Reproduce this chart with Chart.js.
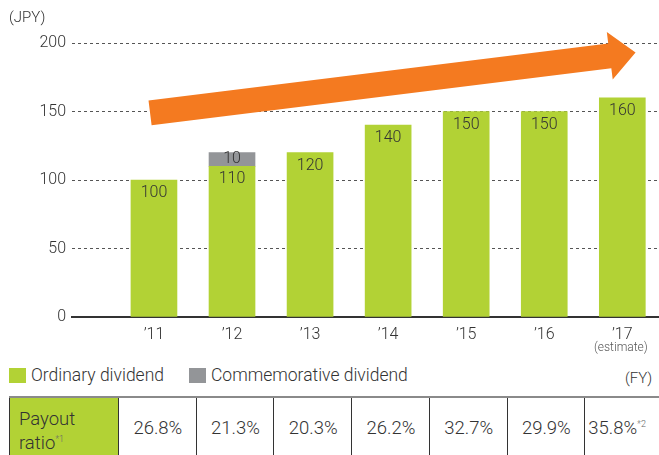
<!DOCTYPE html>
<html>
<head>
<meta charset="utf-8">
<script src="https://cdn.jsdelivr.net/npm/chart.js@4"></script>
<style>
  body { margin: 0; width: 659px; height: 455px; overflow: hidden; background: #fff;
         font-family: Roboto, "Liberation Sans", sans-serif; font-weight: 300; color: #333; position: relative; }
  #wrap { position: absolute; left: 0; top: 0; width: 659px; height: 360px; }
  .abs { position: absolute; white-space: nowrap; }
  .sw { position: absolute; width: 17px; height: 15px; }
  .cell { position: absolute; top: 398px; height: 57px; border-left: 1px solid #333;
          font-size: 18.5px; line-height: 60px; text-align: center; }
  sup { font-size: 9px; color: #666; vertical-align: 7px; line-height: 0; }
</style>
</head>
<body>
<div id="wrap"><canvas id="chart" width="659" height="360"></canvas></div>
<div class="abs" style="left:9px;top:8px;font-size:15px">(JPY)</div>
<div class="abs" style="left:594px;top:340px;font-size:12px;color:#555">(estimate)</div>

<div class="sw" style="left:9px;top:368px;background:#b2d235"></div>
<div class="abs" style="left:31px;top:365px;font-size:17.5px">Ordinary dividend</div>
<div class="sw" style="left:189px;top:368px;background:#939598"></div>
<div class="abs" style="left:211px;top:365px;font-size:17.5px">Commemorative dividend</div>
<div class="abs" style="left:625px;top:369px;font-size:15px">(FY)</div>

<div class="abs" style="left:9px;top:396px;width:650px;height:2px;background:#8a8a8a"></div>
<div id="table"></div>

<script>
const years = ['’11', '’12', '’13', '’14', '’15', '’16', '’17'];
const ordinary = [100, 110, 120, 140, 150, 150, 160];
const commemorative = [null, 10, null, null, null, null, null];
const yTicks = [0, 50, 100, 150, 200];
const payoutRatios = ['26.8%', '21.3%', '20.3%', '26.2%', '32.7%', '29.9%', '35.8%'];
const payoutNotes = ['', '', '', '', '', '', '*2'];

// decorative trend arrow, in data units
const arrowFrom = { x: -0.05, y: 149 };
const arrowTo = { x: 6.17, y: 193 };

const green = '#b2d235';
const grey = '#939598';
const font = { family: 'Roboto, "Liberation Sans", sans-serif', weight: '300' };

// payout ratio table
const table = document.getElementById('table');
let html = '<div class="cell" style="left:9px;width:109px;background:' + green +
  ';text-align:left;line-height:24px;padding:9px 0 0 9px;box-sizing:border-box">Payout<br>ratio<sup>*1</sup></div>';
payoutRatios.forEach((r, i) => {
  const left = 118 + i * 77.7;
  const last = i === payoutRatios.length - 1;
  html += '<div class="cell" style="left:' + left + 'px;width:' + (last ? 659 - left : 77.7) + 'px;' +
    (last ? 'text-align:left;padding-left:3px;box-sizing:border-box' : '') + '">' + r +
    (payoutNotes[i] ? '<sup>' + payoutNotes[i] + '</sup>' : '') + '</div>';
});
table.innerHTML = html;

const arrowPlugin = {
  id: 'arrow',
  afterDatasetsDraw(chart) {
    const { ctx, scales: { x, y } } = chart;
    const x1 = x.getPixelForValue(arrowFrom.x), y1 = y.getPixelForValue(arrowFrom.y);
    const x2 = x.getPixelForValue(arrowTo.x), y2 = y.getPixelForValue(arrowTo.y);
    const ang = Math.atan2(y2 - y1, x2 - x1);
    const len = Math.hypot(x2 - x1, y2 - y1);
    const shaft = 25, headLen = 26, headHalf = 24;
    ctx.save();
    ctx.translate(x1, y1);
    ctx.rotate(ang);
    ctx.fillStyle = '#f47a20';
    ctx.beginPath();
    ctx.moveTo(0, -shaft / 2);
    ctx.lineTo(len - headLen, -shaft / 2);
    ctx.lineTo(len - headLen, -headHalf);
    ctx.lineTo(len, 0);
    ctx.lineTo(len - headLen, headHalf);
    ctx.lineTo(len - headLen, shaft / 2);
    ctx.lineTo(0, shaft / 2);
    ctx.closePath();
    ctx.fill();
    ctx.restore();
  }
};

const labelPlugin = {
  id: 'barLabels',
  afterDatasetsDraw(chart) {
    const ctx = chart.ctx;
    ctx.save();
    ctx.font = '300 16px ' + font.family;
    ctx.fillStyle = '#333';
    ctx.textAlign = 'center';
    ctx.textBaseline = 'middle';
    chart.data.datasets.forEach((ds, di) => {
      chart.getDatasetMeta(di).data.forEach((bar, i) => {
        const v = ds.data[i].y;
        if (v == null) return;
        const ty = di === 0 ? bar.y + 13 : (bar.y + bar.base) / 2;
        ctx.fillText(String(v), bar.x, ty);
      });
    });
    ctx.restore();
  }
};

new Chart(document.getElementById('chart'), {
  type: 'bar',
  data: {
    datasets: [
      { label: 'Ordinary dividend', data: ordinary.map((v, i) => ({ x: i, y: v })),
        backgroundColor: green, barThickness: 46 },
      { label: 'Commemorative dividend', data: commemorative.map((v, i) => ({ x: i, y: v })),
        backgroundColor: grey, barThickness: 46 }
    ]
  },
  options: {
    responsive: false,
    animation: false,
    layout: { padding: { top: 43, left: 0, right: 0, bottom: 0 } },
    plugins: { legend: { display: false }, tooltip: { enabled: false } },
    scales: {
      x: {
        type: 'linear', stacked: true, offset: false, min: -1.05, max: 6.47,
        afterBuildTicks: s => { s.ticks = years.map((_, i) => ({ value: i })); },
        afterFit: s => { s.height = 43; },
        ticks: { callback: v => years[v], autoSkip: false, maxRotation: 0, padding: 8,
                 color: '#333', font: { ...font, size: 16 } },
        grid: { display: false, drawTicks: false },
        border: { display: true, color: '#333', width: 2 }
      },
      y: {
        stacked: true, min: 0, max: 200,
        afterBuildTicks: s => { s.ticks = yTicks.map(v => ({ value: v })); },
        afterFit: s => { s.width = 72; },
        ticks: { padding: 6, color: '#333', font: { ...font, size: 16 } },
        grid: { color: c => c.tick && c.tick.value === 0 ? 'rgba(0,0,0,0)' : '#555',
                lineWidth: 1, drawTicks: false },
        border: { display: false, dash: [3, 3] }
      }
    }
  },
  plugins: [arrowPlugin, labelPlugin]
});
</script>
</body>
</html>
